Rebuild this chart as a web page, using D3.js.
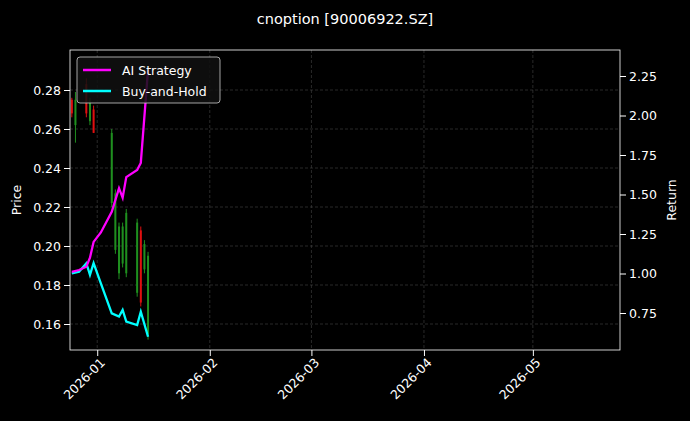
<!DOCTYPE html><html><head><meta charset="utf-8">
<script src="https://cdn.jsdelivr.net/npm/d3@7"></script>
<style>body{margin:0;background:#000;font-family:"DejaVu Sans",sans-serif}</style></head><body>
<svg id="c" width="690" height="421"></svg>
<script>
const lineDates=["2025-12-25","2025-12-27","2025-12-29","2025-12-30","2025-12-31","2026-01-02","2026-01-05","2026-01-07","2026-01-08","2026-01-09","2026-01-12","2026-01-13","2026-01-15"];
const strategy=[1.011,1.022,1.043,1.10,1.20,1.26,1.39,1.54,1.48,1.61,1.655,1.70,2.29];
const buyHold=[1.001,1.011,1.065,0.991,1.065,0.938,0.748,0.727,0.769,0.695,0.674,0.758,0.600];
const candleDates=["2025-12-25","2025-12-26","2025-12-29","2025-12-30","2025-12-31","2026-01-05","2026-01-06","2026-01-07","2026-01-08","2026-01-09","2026-01-12","2026-01-13","2026-01-14","2026-01-15"];
const open=[0.275,0.262,0.283,0.264,0.270,0.222,0.198,0.186,0.191,0.186,0.176,0.208,0.188,0.155];
const close=[0.268,0.275,0.268,0.274,0.258,0.258,0.227,0.210,0.210,0.217,0.212,0.171,0.201,0.195];
const high=[0.276,0.279,0.286,0.276,0.272,0.260,0.229,0.212,0.212,0.219,0.214,0.210,0.203,0.197];
const low=[0.266,0.253,0.266,0.262,0.258,0.220,0.196,0.183,0.189,0.184,0.174,0.169,0.186,0.152];
const priceTicks=[0.16,0.18,0.20,0.22,0.24,0.26,0.28];
const returnTicks=[0.75,1.00,1.25,1.50,1.75,2.00,2.25];
const monthTicks=["2026-01-01","2026-02-01","2026-03-01","2026-04-01","2026-05-01"];

const P=d3.timeParse("%Y-%m-%d");
const svg=d3.select("#c");
const L=70,R=620,T=50,B=350;
const x=d3.scaleTime().domain([new Date(2025,11,24,12),new Date(2026,4,25)]).range([L,R]);
const y=d3.scaleLinear().domain([0.16-(350-324)/1950,0.16+(324-50)/1950]).range([B,T]);
const y2=d3.scaleLinear().domain([0.75-(350-313)/158,0.75+(313-50)/158]).range([B,T]);
svg.append("rect").attr("x",L).attr("y",T).attr("width",R-L).attr("height",B-T).attr("fill","#000");
const g=svg.append("g");
monthTicks.forEach(t=>g.append("line").attr("x1",x(P(t))).attr("x2",x(P(t))).attr("y1",T).attr("y2",B));
priceTicks.forEach(t=>g.append("line").attr("x1",L).attr("x2",R).attr("y1",y(t)).attr("y2",y(t)));
g.selectAll("line").attr("stroke","#444").attr("stroke-width",0.6).attr("stroke-dasharray","3,2");
candleDates.forEach((d,i)=>{const c=close[i]>=open[i]?"#1f8f1f":"#e01010";const xx=x(P(d));
 svg.append("line").attr("x1",xx).attr("x2",xx).attr("y1",y(high[i])).attr("y2",y(low[i])).attr("stroke",c).attr("stroke-width",1);
 svg.append("rect").attr("x",xx-1).attr("width",2).attr("y",y(Math.max(open[i],close[i]))).attr("height",Math.abs(y(open[i])-y(close[i]))).attr("fill",c);});
const ln=(arr)=>d3.line().x((d,i)=>x(P(lineDates[i]))).y(d=>y2(d))(arr);
svg.append("path").attr("d",ln(buyHold)).attr("fill","none").attr("stroke","#00ffff").attr("stroke-width",2.3);
svg.append("path").attr("d",ln(strategy)).attr("fill","none").attr("stroke","#ff00ff").attr("stroke-width",2.3);
svg.append("rect").attr("x",L).attr("y",T).attr("width",R-L).attr("height",B-T).attr("fill","none").attr("stroke","#fff").attr("stroke-width",0.8);
const ax=svg.append("g").attr("transform",`translate(0,${B})`).call(d3.axisBottom(x).tickValues(monthTicks.map(P)).tickFormat(d3.timeFormat("%Y-%m")).tickSizeOuter(0));
ax.selectAll("text").attr("transform","rotate(-45)").attr("text-anchor","end").attr("dx","-0.3em").attr("dy","0.5em");
svg.append("g").attr("transform",`translate(${L},0)`).call(d3.axisLeft(y).tickValues(priceTicks).tickFormat(d3.format(".2f")).tickSizeOuter(0));
svg.append("g").attr("transform",`translate(${R},0)`).call(d3.axisRight(y2).tickValues(returnTicks).tickFormat(d3.format(".2f")).tickSizeOuter(0));
svg.selectAll(".tick text").attr("fill","#fff").style("font-size","12.5px").style("font-family","DejaVu Sans");
svg.selectAll(".tick line").attr("stroke","#fff");svg.selectAll(".domain").attr("stroke","none");
svg.append("text").attr("x",345).attr("y",24).attr("text-anchor","middle").attr("fill","#fff").style("font-size","14.5px").text("cnoption [90006922.SZ]");
svg.append("text").attr("transform","translate(21,200) rotate(-90)").attr("text-anchor","middle").attr("fill","#fff").style("font-size","12.5px").text("Price");
svg.append("text").attr("transform","translate(676,200) rotate(-90)").attr("text-anchor","middle").attr("fill","#fff").style("font-size","12.5px").text("Return");
const lg=svg.append("g");
lg.append("rect").attr("x",77).attr("y",57).attr("width",143).attr("height",46).attr("rx",3).attr("fill","#111").attr("fill-opacity",0.85).attr("stroke","#ccc").attr("stroke-width",0.8);
[["AI Strategy","#ff00ff",70],["Buy-and-Hold","#00ffff",91]].forEach(([t,c,yy])=>{
 lg.append("line").attr("x1",83).attr("x2",111).attr("y1",yy).attr("y2",yy).attr("stroke",c).attr("stroke-width",2.5);
 lg.append("text").attr("x",122).attr("y",yy+4.5).attr("fill","#fff").style("font-size","12.5px").text(t);});
</script></body></html>
